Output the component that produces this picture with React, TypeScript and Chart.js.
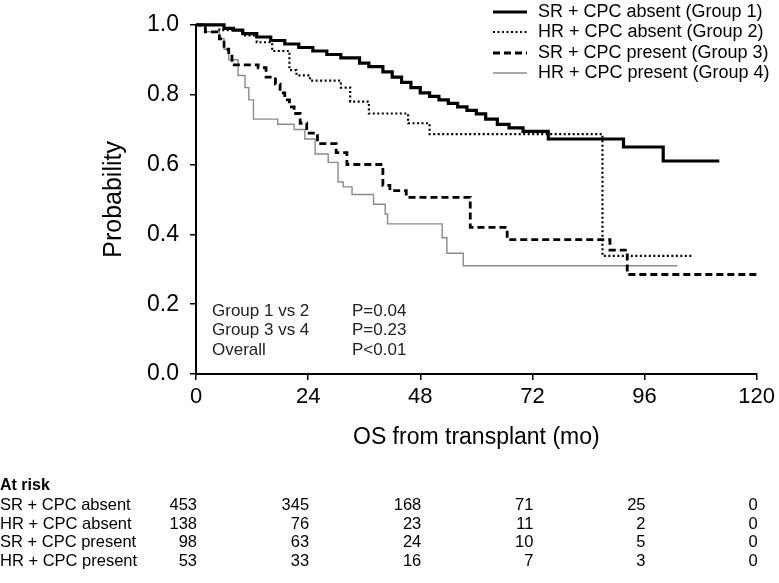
import React, { useEffect, useRef } from 'react';
import { Chart, registerables } from 'chart.js';

Chart.register(...registerables);

// ---- Data ----
const g1Time = [0, 6, 8, 10, 13, 16, 19, 22, 25, 28, 31, 35, 37, 40, 42, 44, 46, 48, 50, 52, 54, 56, 58, 60, 62, 64.5, 67, 70, 75.4, 91.5, 100, 112];
const g1Surv = [1.0, 0.99, 0.985, 0.975, 0.965, 0.955, 0.945, 0.935, 0.925, 0.915, 0.905, 0.89, 0.88, 0.865, 0.85, 0.835, 0.82, 0.805, 0.795, 0.785, 0.775, 0.765, 0.755, 0.745, 0.73, 0.715, 0.705, 0.695, 0.673, 0.65, 0.61, 0.61];

const g2Time = [0, 5, 10, 13, 16.3, 20, 21.5, 24.4, 31, 33, 37, 45.4, 50, 87, 106.5];
const g2Surv = [1.0, 0.985, 0.97, 0.95, 0.925, 0.87, 0.855, 0.84, 0.82, 0.78, 0.746, 0.718, 0.687, 0.338, 0.338];

const g3Time = [0, 2, 5, 6, 7, 7.7, 13.3, 15, 17, 18, 19, 20, 21, 22.3, 23.7, 26, 30, 32.3, 40, 41.5, 45, 58.7, 66.6, 88.6, 92.3, 120];
const g3Surv = [1.0, 0.98, 0.96, 0.93, 0.91, 0.885, 0.877, 0.85, 0.83, 0.805, 0.785, 0.765, 0.746, 0.718, 0.69, 0.66, 0.634, 0.6, 0.54, 0.525, 0.506, 0.42, 0.385, 0.355, 0.285, 0.285];

const g4Time = [0, 2, 5, 6, 7, 9, 10.5, 11.3, 12.3, 17.5, 21, 23.3, 25.5, 28.3, 30.4, 31.5, 33.4, 38, 40.5, 41, 52.7, 53.7, 57.2, 103];
const g4Surv = [1.0, 0.98, 0.96, 0.93, 0.9, 0.855, 0.82, 0.785, 0.73, 0.715, 0.7, 0.673, 0.63, 0.606, 0.55, 0.536, 0.514, 0.486, 0.458, 0.43, 0.39, 0.346, 0.31, 0.31];

const seriesLabels = [
  'SR + CPC absent (Group 1)',
  'HR + CPC absent (Group 2)',
  'SR + CPC present (Group 3)',
  'HR + CPC present (Group 4)',
];

const xTicks = [0, 24, 48, 72, 96, 120];
const yTicks = [0, 0.2, 0.4, 0.6, 0.8, 1.0];

const riskTitle = 'At risk';
const riskLabels = ['SR + CPC absent', 'HR + CPC absent', 'SR + CPC present', 'HR + CPC present'];
const riskG1 = [453, 345, 168, 71, 25, 0];
const riskG2 = [138, 76, 23, 11, 2, 0];
const riskG3 = [98, 63, 24, 10, 5, 0];
const riskG4 = [53, 33, 16, 7, 3, 0];

const pLabels = ['Group 1 vs 2', 'Group 3 vs 4', 'Overall'];
const pValues = ['P=0.04', 'P=0.23', 'P<0.01'];

const FONT = "'Liberation Sans', Arial, Helvetica, sans-serif";

const styles = [
  { color: '#000000', width: 3.2, dash: [] as number[] },
  { color: '#000000', width: 2.2, dash: [2, 2.5] },
  { color: '#000000', width: 2.8, dash: [7, 4] },
  { color: '#8a8a8a', width: 1.4, dash: [] as number[] },
];

const toPts = (t: number[], s: number[]) => t.map((x, i) => ({ x, y: s[i] }));

const annotPlugin = {
  id: 'annot',
  afterDraw(chart: any) {
    const ctx = chart.ctx as CanvasRenderingContext2D;
    const xs = chart.scales.x;
    ctx.save();
    // Legend
    ctx.font = `18px ${FONT}`;
    ctx.textBaseline = 'middle';
    ctx.textAlign = 'left';
    const legY = [12, 32, 53, 73];
    seriesLabels.forEach((lab, i) => {
      const st = styles[i];
      ctx.beginPath();
      ctx.strokeStyle = st.color;
      ctx.lineWidth = st.width;
      ctx.setLineDash(st.dash);
      ctx.moveTo(493, legY[i]);
      ctx.lineTo(527, legY[i]);
      ctx.stroke();
      ctx.setLineDash([]);
      ctx.fillStyle = '#000';
      ctx.fillText(lab, 538, legY[i]);
    });
    // P values
    ctx.font = `17px ${FONT}`;
    ctx.fillStyle = '#222';
    const pY = [311, 330, 350];
    pLabels.forEach((lab, i) => {
      ctx.fillText(lab, 212, pY[i]);
      ctx.fillText(pValues[i], 352, pY[i]);
    });
    // At-risk table
    ctx.fillStyle = '#000';
    ctx.font = `bold 16px ${FONT}`;
    ctx.fillText(riskTitle, 0, 486);
    ctx.font = `16.5px ${FONT}`;
    const rows = [riskG1, riskG2, riskG3, riskG4];
    const rowY = [505, 524, 542, 561];
    rows.forEach((vals, r) => {
      ctx.textAlign = 'left';
      ctx.fillText(riskLabels[r], 0, rowY[r]);
      ctx.textAlign = 'right';
      vals.forEach((v, c) => {
        ctx.fillText(String(v), xs.getPixelForValue(xTicks[c]) + 1, rowY[r]);
      });
    });
    ctx.restore();
  },
};

export default function App() {
  const ref = useRef<HTMLCanvasElement | null>(null);
  useEffect(() => {
    if (!ref.current) return;
    const datasets = [
      [g1Time, g1Surv],
      [g2Time, g2Surv],
      [g3Time, g3Surv],
      [g4Time, g4Surv],
    ].map(([t, s], i) => ({
      label: seriesLabels[i],
      data: toPts(t, s),
      borderColor: styles[i].color,
      borderWidth: styles[i].width,
      borderDash: styles[i].dash,
      pointRadius: 0,
      stepped: 'before' as const,
      fill: false,
      clip: 4,
    }));
    const chart = new Chart(ref.current, {
      type: 'line',
      data: { datasets },
      options: {
        animation: false,
        responsive: false,
        devicePixelRatio: 1,
        layout: { padding: { left: 95, right: 22, top: 17, bottom: 128 } },
        plugins: { legend: { display: false }, tooltip: { enabled: false } },
        scales: {
          x: {
            type: 'linear',
            min: 0,
            max: 120,
            afterBuildTicks: (s: any) => { s.ticks = xTicks.map((v) => ({ value: v })); },
            afterFit: (s: any) => { s.height = 81; },
            ticks: { color: '#000', font: { family: FONT, size: 22 }, padding: 4, maxRotation: 0 },
            grid: { drawOnChartArea: false, drawTicks: true, tickLength: 6, color: '#000', lineWidth: 1.5 },
            border: { display: true, color: '#000', width: 2 },
            title: { display: true, text: 'OS from transplant (mo)', color: '#000', font: { family: FONT, size: 23 } },
          },
          y: {
            type: 'linear',
            min: 0,
            max: 1,
            afterBuildTicks: (s: any) => { s.ticks = yTicks.map((v) => ({ value: v })); },
            afterFit: (s: any) => { s.width = 101; },
            ticks: { color: '#000', font: { family: FONT, size: 23 }, padding: 11, callback: (v: any) => Number(v).toFixed(1) },
            grid: { drawOnChartArea: false, drawTicks: true, tickLength: 6, color: '#000', lineWidth: 1.5 },
            border: { display: true, color: '#000', width: 2 },
            title: { display: true, text: 'Probability', color: '#000', font: { family: FONT, size: 25 } },
          },
        },
      },
      plugins: [annotPlugin],
    });
    return () => chart.destroy();
  }, []);
  return (
    <div style={{ position: 'absolute', left: 0, top: 0, width: 779, height: 583, background: '#fff' }}>
      <canvas ref={ref} width={779} height={583} style={{ display: 'block', width: 779, height: 583 }} />
    </div>
  );
}
